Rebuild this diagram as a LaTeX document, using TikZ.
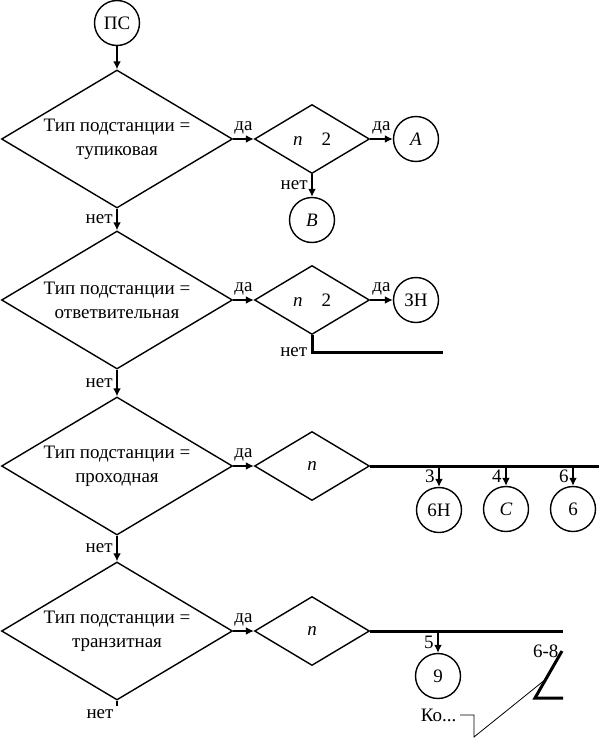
\documentclass[tikz,border=0pt]{standalone}
\usepackage{fontspec}
\setmainfont{Liberation Serif}
\usetikzlibrary{shapes.geometric,arrows.meta}
\tikzset{
  bigcond/.style={diamond,draw,line width=1.4pt,aspect=1.67,minimum width=231pt,minimum height=138pt,inner xsep=-30pt,inner ysep=0pt,align=center},
  smallcond/.style={diamond,draw,line width=1.4pt,aspect=1.67,minimum width=115pt,minimum height=69pt,inner sep=0pt},
  conn/.style={circle,draw,line width=1.4pt,minimum size=45pt,inner sep=0pt},
  flow/.style={line width=2.2pt,-{Latex[length=8pt,width=8pt]}},
  bus/.style={line width=3pt},
}
\begin{document}
\begin{tikzpicture}[x=1pt,y=-1pt,font=\fontsize{19}{24}\selectfont]
  \useasboundingbox (0,0) rectangle (599,739);
  \node[conn] (PS) at (117,23){ПС};
  \node[bigcond] (T1) at (117,139){Тип подстанции =\\тупиковая};
  \node[smallcond] (N1) at (312,139){\textit{n}\quad 2};
  \node[conn] (A) at (416,139){\textit{A}};
  \node[conn] (B) at (312,220){\textit{B}};
  \node[bigcond] (T2) at (117,300){Тип подстанции =\\ответвительная};
  \node[smallcond] (N2) at (312,300){\textit{n}\quad 2};
  \node[conn] (ZN) at (416,300){ЗН};
  \node[bigcond] (T3) at (117,466){Тип подстанции =\\проходная};
  \node[smallcond] (N3) at (312,466){\textit{n}};
  \node[conn] (S6N) at (439,510){6Н};
  \node[conn] (SC) at (506,509){\textit{C}};
  \node[conn] (S6) at (573,509){6};
  \node[bigcond] (T4) at (117,631){Тип подстанции =\\транзитная};
  \node[smallcond] (N4) at (312,631){\textit{n}};
  \node[conn] (S9) at (438,676){9};

  \coordinate (N2end) at (443,352);
  \coordinate (N3end) at (599,466);
  \coordinate (N4end) at (563,631);
  \coordinate (K1) at (562,651);
  \coordinate (K2) at (535,698);
  \coordinate (K3) at (563,698);
  \coordinate (L1) at (546,679);
  \coordinate (L2) at (474,737);
  \coordinate (L3) at (474,715);
  \coordinate (L4) at (460,715);
  \coordinate (T4end) at (117,706);

  \draw[flow] (PS) -- (T1);
  \draw[flow] (T1) -- node[above]{да} (N1);
  \draw[flow] (N1) -- node[above]{да} (A);
  \draw[flow] (N1) -- node[left]{нет} (B);
  \draw[flow] (T1) -- node[left]{нет} (T2);
  \draw[flow] (T2) -- node[above]{да} (N2);
  \draw[flow] (N2) -- node[above]{да} (ZN);
  \draw[bus] (N2.south) |- node[pos=0.5,left]{нет} (N2end);
  \draw[flow] (T2) -- node[left]{нет} (T3);
  \draw[flow] (T3) -- node[above]{да} (N3);
  \draw[bus] (N3.east) -- (N3end);
  \draw[flow] (S6N |- N3.east) -- node[left]{3} (S6N);
  \draw[flow] (SC |- N3.east) -- node[left]{4} (SC);
  \draw[flow] (S6 |- N3.east) -- node[left]{6} (S6);
  \draw[flow] (T3) -- node[left]{нет} (T4);
  \draw[flow] (T4) -- node[above]{да} (N4);
  \draw[bus] (N4.east) -- (N4end);
  \draw[flow] (S9 |- N4.east) -- node[left]{5} (S9);
  \node[left] (R68) at (K1){6-8};
  \draw[bus] (K1) -- (K2) -- (K3);
  \draw[line width=0.8pt] (L1) -- (L2) -- (L3) -- (L4);
  \node[left] (Note) at (L4){Ко...};
  \draw[line width=1.4pt] (T4.south) -- (T4end);
  \node[below left] (No4) at (T4end){нет};
\end{tikzpicture}
\end{document}
